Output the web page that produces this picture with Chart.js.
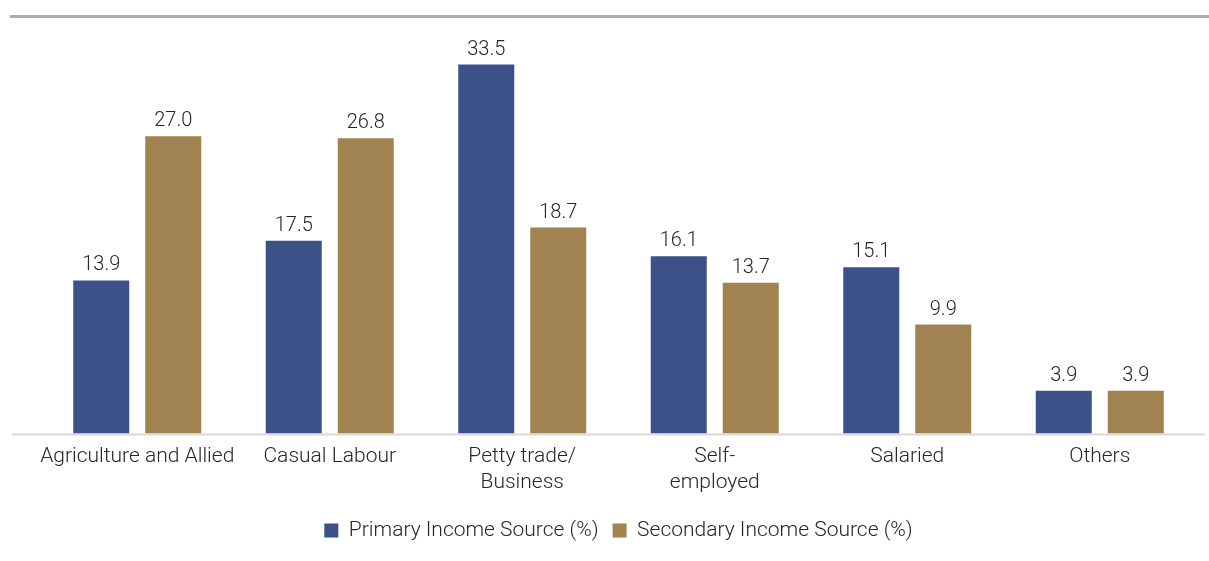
<!DOCTYPE html>
<html>
<head>
<meta charset="utf-8">
<script src="https://cdn.jsdelivr.net/npm/chart.js@4"></script>
<style>
  html, body { margin: 0; padding: 0; background: #fff; }
  #wrap { position: relative; width: 1209px; height: 561px; }
  #rule { position: absolute; left: 10px; right: 0; top: 15px; height: 3px; background: #b3aca5; }
  canvas { position: absolute; left: 0; top: 0; }
</style>
</head>
<body>
<div id="wrap">
  <div id="rule"></div>
  <canvas id="c" width="1209" height="561"></canvas>
</div>
<script>
const categories = [
  "Agriculture and Allied",
  "Casual Labour",
  ["Petty trade/", "Business"],
  ["Self-", "employed"],
  "Salaried",
  "Others"
];
const primaryIncome = [13.9, 17.5, 33.5, 16.1, 15.1, 3.9];
const secondaryIncome = [27.0, 26.8, 18.7, 13.7, 9.9, 3.9];
const seriesNames = ["Primary Income Source (%)", "Secondary Income Source (%)"];

const FONT = "Roboto";
const WEIGHT = "300";
const TEXT = "#262626";

// Value labels above each bar
const valueLabels = {
  id: "valueLabels",
  afterDatasetsDraw(chart) {
    const ctx = chart.ctx;
    ctx.save();
    ctx.font = WEIGHT + " 20px " + FONT;
    ctx.fillStyle = TEXT;
    ctx.textAlign = "center";
    ctx.textBaseline = "bottom";
    chart.data.datasets.forEach((ds, i) => {
      chart.getDatasetMeta(i).data.forEach((bar, j) => {
        ctx.fillText(ds.data[j].toFixed(1), bar.x, bar.y - 5);
      });
    });
    ctx.restore();
  }
};

// Baseline running under the category axis, a little wider than the plot
const baseline = {
  id: "baseline",
  beforeDatasetsDraw(chart) {
    const { ctx, chartArea } = chart;
    const y = chart.scales.y.getPixelForValue(0);
    ctx.save();
    ctx.strokeStyle = "#d9d9d9";
    ctx.lineWidth = 2;
    ctx.beginPath();
    ctx.moveTo(chartArea.left - 29, y + 1);
    ctx.lineTo(chartArea.right + 9, y + 1);
    ctx.stroke();
    ctx.restore();
  }
};

new Chart(document.getElementById("c"), {
  type: "bar",
  data: {
    labels: categories,
    datasets: [
      { label: seriesNames[0], data: primaryIncome, backgroundColor: "#3c5188" },
      { label: seriesNames[1], data: secondaryIncome, backgroundColor: "#a08351" }
    ]
  },
  options: {
    responsive: false,
    animation: false,
    devicePixelRatio: 1,
    categoryPercentage: 0.748,
    barPercentage: 0.778,
    layout: { padding: { left: 41, right: 13, top: 48, bottom: 10 } },
    scales: {
      x: {
        grid: { display: false, drawTicks: false },
        border: { display: false },
        ticks: { color: TEXT, font: { family: FONT, size: 21, weight: WEIGHT, lineHeight: 1.2 }, padding: 11, maxRotation: 0, autoSkip: false }
      },
      y: { display: false, min: 0, max: 35 }
    },
    plugins: {
      legend: {
        position: "bottom",
        labels: {
          color: TEXT,
          font: { family: FONT, size: 21, weight: WEIGHT },
          boxWidth: 14,
          boxHeight: 14,
          padding: 14
        }
      },
      tooltip: { enabled: false }
    }
  },
  plugins: [valueLabels, baseline]
});
</script>
</body>
</html>
